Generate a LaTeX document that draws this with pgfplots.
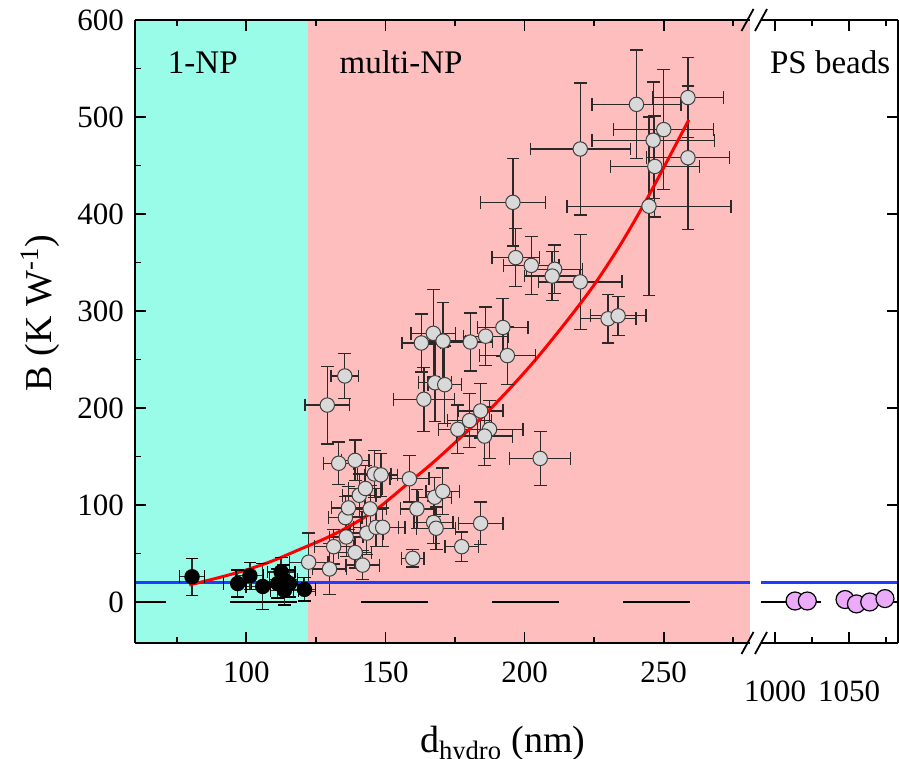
\documentclass[border=0pt]{standalone}
\usepackage{pgfplots}
\pgfplotsset{compat=1.18}
\usepackage{pgfplotstable}
\usepackage{fontspec}
\setmainfont{Liberation Serif}

\definecolor{cyanbg}{RGB}{153,252,233}
\definecolor{pinkbg}{RGB}{255,190,190}
\definecolor{ptfill}{RGB}{217,217,217}
\definecolor{psfill}{RGB}{235,170,250}
\definecolor{blueline}{RGB}{30,60,255}
\definecolor{errc}{RGB}{45,40,40}

\pgfplotstableread{
x y ex ey
122.4 41 7 30
129.9 34 6 26
131.4 57 7 18
135.9 67 6 20
139.1 51 6 16
141.8 38 6 15
143.3 71 6 22
146.6 77 8 20
149.0 77 8 20
135.6 87 6 22
136.7 97 6 22
144.5 96 6 24
140.6 110 6 22
142.8 117 6 24
146.0 132 6 24
148.4 131 6 22
133.2 143 5.5 22
139.1 146 5 21
129.1 203 8 40
135.4 233 5 23
158.6 127 7 24
161.3 96 6 20
159.8 45 4 9
167.7 108 6 20
170.6 114 6 24
167.3 82 7 22
168.2 76 7 22
177.4 57 6 15
184.2 81 8 22
205.6 148 11 28
176.0 178 7 25
180.2 187 8 28
184.2 197 8 28
187.4 178 12 30
185.6 171 10 30
163.8 209 11 33
167.8 226 6 40
171.3 224 6 40
162.9 267 7 30
167.2 277 8 45
170.7 269 8 40
180.5 268 8 30
186.0 274 8 30
192.2 283 9 30
193.8 254 10 30
195.8 412 11.7 45
196.8 355 8.5 30
202.4 347 10 30
210.8 343 10 25
209.9 336 10 25
220.0 330 15 49
230.0 292 10 25
233.6 295 10 20
220.0 467 18 68
240.2 513 16 56
258.7 520 12.7 41
258.7 458 15 74
250.0 487 18 62
246.2 476 22 60
246.8 449 16 52
244.7 408 29.5 92
}\greydata

\pgfplotstableread{
x y ex ey
80.5 26 4.5 19
96.9 19 5 14
101.3 27 5 14
105.9 16 6 24
111.3 19 5 15
112.5 31 5 15
113.3 23 5 15
113.7 12 5 15
115.5 19 5 14
120.9 13 4 12
}\blackdata

\pgfplotstableread{
x y
1013.5 1
1021.8 1
1047.3 2.5
1055.0 -2
1064.0 0
1074.3 3.5
}\psdata

\pgfplotsset{
  myax/.style={
    scale only axis, height=311.5pt, ymin=-42.3, ymax=600,
    tick align=inside, major tick length=5.5pt, minor tick length=3pt,
    every tick/.append style={black, line width=0.9pt},
    axis line style={line width=1pt},
    tick label style={font=\fontsize{15.5}{18}\selectfont},
    /pgf/number format/assume math mode=true,
    /pgf/number format/1000 sep={},
    scaled ticks=false,
    axis on top, clip=true,
  },
  errstyle/.style={
    error bars/.cd, x dir=both, x explicit, y dir=both, y explicit,
    error mark=none,
    error bar style={line width=0.65pt, errc},
  },
}

% caps of the error bars, drawn as marks at the bar ends
\newcommand{\errcaps}[2]{%
  \addplot[only marks, mark=-, mark size=3.2pt, mark options={line width=0.65pt, #2}]
    table[x=x, y expr=\thisrow{y}+\thisrow{ey}] {#1};
  \addplot[only marks, mark=-, mark size=3.2pt, mark options={line width=0.65pt, #2}]
    table[x=x, y expr=\thisrow{y}-\thisrow{ey}] {#1};
  \addplot[only marks, mark=|, mark size=3.2pt, mark options={line width=0.65pt, #2}]
    table[x expr=\thisrow{x}+\thisrow{ex}, y=y] {#1};
  \addplot[only marks, mark=|, mark size=3.2pt, mark options={line width=0.65pt, #2}]
    table[x expr=\thisrow{x}-\thisrow{ex}, y=y] {#1};
}

\begin{document}
\begin{tikzpicture}
\useasboundingbox (-67.5pt,-58pt) rectangle (382pt,321.5pt);

% left part
\begin{axis}[myax, at={(0pt,0pt)}, anchor=south west, width=307.5pt,
  xmin=60, xmax=281,
  xtick={100,150,200,250}, minor xtick={75,125,175,225,275},
  ytick={0,100,...,600}, minor ytick={50,150,...,550},
  axis x line*=box, axis y line*=left,
  xticklabel style={yshift=-6pt},
  yticklabel style={xshift=-2pt},
]
\fill[cyanbg] (axis cs:60,-42.3) rectangle (axis cs:122,600);
\fill[pinkbg] (axis cs:122,-42.3) rectangle (axis cs:281,600);
\addplot[black, line width=1.2pt, dash pattern=on 33.5pt off 32pt, dash phase=18pt] coordinates {(60,0) (281,0)};
\errcaps{\greydata}{errc}
\addplot[only marks, mark=*, mark size=3.6pt,
  mark options={fill=ptfill, draw=black!75, line width=0.5pt}, errstyle]
  table[x=x, y=y, x error=ex, y error=ey] {\greydata};
\errcaps{\blackdata}{black}
\addplot[only marks, mark=*, mark size=3.6pt,
  mark options={fill=black, draw=black, line width=0.5pt}, errstyle]
  table[x=x, y=y, x error=ex, y error=ey] {\blackdata};
\addplot[blueline, line width=1.3pt] coordinates {(60,20) (281,20)};
\addplot[red, line width=1.5pt, smooth, tension=0.5] coordinates {
 (79.5,17.5) (90,25) (100,33) (110,43) (119,54) (128,65) (137,78) (147,96)
 (158,122) (168,146) (179,175) (187,197) (195,221) (204,250) (215,289)
 (225,327) (235,371) (245,421) (259,497)};
\node[anchor=base west, font=\fontsize{16.5}{20}\selectfont] at (axis cs:69.3,545) {1-NP};
\node[anchor=base west, font=\fontsize{16.5}{20}\selectfont] at (axis cs:131,545) {multi-NP};
\end{axis}

% right part
\begin{axis}[myax, at={(313pt,0pt)}, anchor=south west, width=68.5pt,
  xmin=990.5, xmax=1083.1,
  xtick={1000,1050}, minor xtick={1025,1075},
  ytick={0,100,...,600}, yticklabels={,,,,,,},
  axis x line*=box, axis y line*=right,
  xticklabel style={yshift=-15.5pt},
]
\addplot[black, line width=1.2pt, dash pattern=on 33.5pt off 32pt, dash phase=3.5pt] coordinates {(990.5,0) (1083.1,0)};
\addplot[blueline, line width=1.3pt] coordinates {(990.5,20) (1083.1,20)};
\addplot[only marks, mark=*, mark size=4.5pt,
  mark options={fill=psfill, draw=black, line width=0.6pt}]
  table[x=x, y=y] {\psdata};
\node[anchor=base west, font=\fontsize{16.5}{20}\selectfont] at (axis cs:991.9,545) {PS beads};
\end{axis}

% axis breaks
\foreach \yy in {0pt,311.5pt}{
  \draw[line width=0.9pt] (303.25pt,\yy-5.5pt) -- (309.25pt,\yy+5.5pt);
  \draw[line width=0.9pt] (310pt,\yy-5.5pt) -- (316pt,\yy+5.5pt);
}

% axis labels
\node[rotate=90, font=\fontsize{19}{22}\selectfont] at (-47.5pt,165pt) {B (K W\textsuperscript{-1})};
\node[anchor=base west, font=\fontsize{19}{22}\selectfont] at (139pt,-55pt) {d\textsubscript{hydro} (nm)};
\end{tikzpicture}
\end{document}
